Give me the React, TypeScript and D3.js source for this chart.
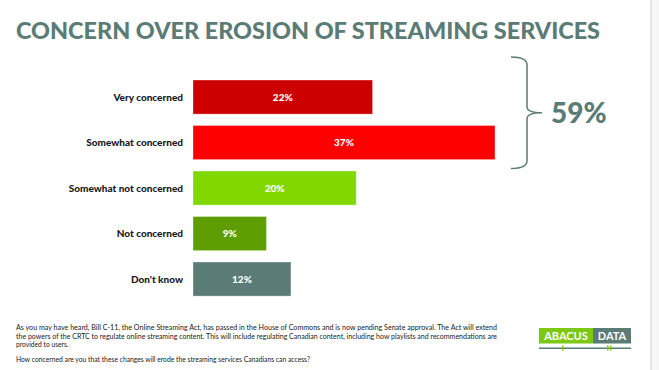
import React from 'react';
import * as d3 from 'd3';

const categories = ['Very concerned', 'Somewhat concerned', 'Somewhat not concerned', 'Not concerned', "Don't know"];
const values = [22, 37, 20, 9, 12];
const colors = ['#CC0000', '#FF0000', '#80D800', '#5E9E00', '#5B7B76'];
const netConcerned = '59%';
const footLines = [
  'As you may have heard, Bill C-11, the Online Streaming Act, has passed in the House of Commons and is now pending Senate approval. The Act will extend',
  'the powers of the CRTC to regulate online streaming content. This will include regulating Canadian content, including how playlists and recommendations are',
  'provided to users.',
];
const question = 'How concerned are you that these changes will erode the streaming services Canadians can access?';

const W = 659;
const H = 370;
const teal = '#5B7B76';
const font = 'Lato, "Open Sans", sans-serif';

const App = () => {
  const left = 193;
  const x = d3.scaleLinear().domain([0, 37]).range([0, 302]);
  const y = d3.scaleBand().domain(categories).range([74.3, 301.8]).paddingInner(0.25).paddingOuter(0.125);
  const bw = y.bandwidth();

  // bracket around the two "concerned" bars
  const bTop = (y(categories[0]) as number) - 23;
  const bBot = (y(categories[1]) as number) + bw + 9;
  const bMid = (bTop + bBot) / 2;
  const bx0 = 511, bx1 = 527, bTip = 542;
  const bracket = `M${bx0},${bTop} Q${bx1},${bTop} ${bx1},${bTop + 8} L${bx1},${bMid - 6} Q${bx1},${bMid} ${bTip},${bMid}
    Q${bx1},${bMid} ${bx1},${bMid + 6} L${bx1},${bBot - 8} Q${bx1},${bBot} ${bx0},${bBot}`;

  return (
    <svg width={W} height={H} style={{ position: 'absolute', left: 0, top: 0 }} fontFamily={font}>
      <rect width={W} height={H} fill="#fff" />
      <rect x={650} y={0} width={2} height={H} fill="#e3e3e3" />
      <rect x={652} y={0} width={7} height={H} fill="#f7f7f7" />

      <text x={16} y={39} fontSize={22} fontWeight={900} fill={teal} textLength={584} lengthAdjust="spacingAndGlyphs">
        CONCERN OVER EROSION OF STREAMING SERVICES
      </text>

      {categories.map((c, i) => {
        const yy = y(c) as number;
        return (
          <g key={c}>
            <text x={183} y={yy + bw / 2} dy="0.35em" textAnchor="end" fontSize={10} fontWeight={900} fill="#1a1a1a">
              {c}
            </text>
            <rect x={left} y={yy} width={x(values[i])} height={bw} fill={colors[i]} stroke="#ffffff" strokeOpacity={0.35} strokeWidth={1} />
            <text x={left + x(values[i]) / 2} y={yy + bw / 2} dy="0.35em" textAnchor="middle" fontSize={10} fontWeight={900} fill="#fff">
              {values[i]}%
            </text>
          </g>
        );
      })}

      <path d={bracket} fill="none" stroke={teal} strokeWidth={1.5} />
      <text x={551} y={bMid} dy="0.36em" fontSize={28} fontWeight={900} fill={teal}>
        {netConcerned}
      </text>

      <g fontSize={6.7} fill="#222">
        <text x={16} y={330} textLength={481} lengthAdjust="spacingAndGlyphs">{footLines[0]}</text>
        <text x={16} y={338.5} textLength={481} lengthAdjust="spacingAndGlyphs">{footLines[1]}</text>
        <text x={16} y={347}>{footLines[2]}</text>
        <text x={16} y={362} textLength={294} lengthAdjust="spacingAndGlyphs">{question}</text>
      </g>

      <g>
        <rect x={539} y={328} width={54} height={15.5} fill="#7CC813" />
        <rect x={593} y={328} width={38} height={15.5} fill={teal} />
        <text x={566} y={336} dy="0.36em" textAnchor="middle" fontSize={11} fontWeight={700} fill="#fff">ABACUS</text>
        <text x={612} y={336} dy="0.36em" textAnchor="middle" fontSize={11} fontWeight={700} fill="#fff">DATA</text>
        <rect x={539} y={347.5} width={92} height={1.5} fill={teal} />
        <rect x={562} y={345.5} width={1.5} height={5} fill="#7CC813" />
        <rect x={607} y={345.5} width={1.5} height={5} fill="#7CC813" />
        <rect x={610} y={345.5} width={1.5} height={5} fill="#7CC813" />
      </g>
    </svg>
  );
};

export default App;
